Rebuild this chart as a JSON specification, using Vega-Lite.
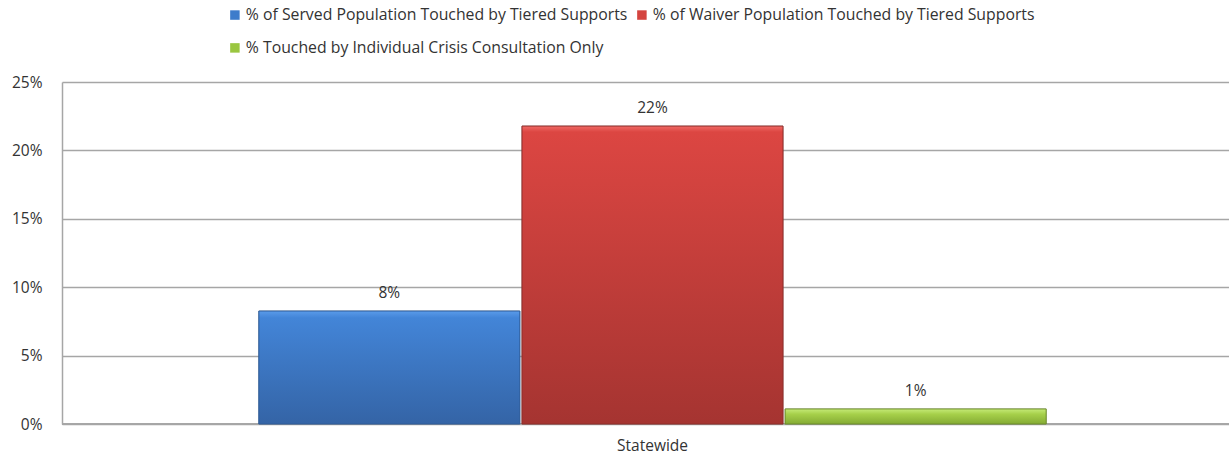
{
  "$schema": "https://vega.github.io/schema/vega-lite/v6.json",
  "autosize": {"type": "none"},
  "width": 1181,
  "height": 342,
  "padding": {"left": 62, "top": 82, "right": 0, "bottom": 33},
  "background": "white",
  "config": {
    "view": {"stroke": null},
    "font": "Open Sans",
    "text": {"font": "Open Sans"}
  },
  "data": {
    "values": [
      {"region": "Statewide", "series": "% of Served Population Touched by Tiered Supports", "value": 0.0826, "label": "8%"},
      {"region": "Statewide", "series": "% of Waiver Population Touched by Tiered Supports", "value": 0.2178, "label": "22%"},
      {"region": "Statewide", "series": "% Touched by Individual Crisis Consultation Only", "value": 0.011, "label": "1%"}
    ]
  },
  "encoding": {
    "x": {
      "field": "region", "type": "nominal",
      "scale": {"paddingOuter": 0.25, "paddingInner": 0},
      "axis": {"title": null, "labelAngle": 0, "ticks": false, "domain": false, "labelFontSize": 15.5, "labelColor": "#333333", "labelPadding": 14, "labelFont": "Open Sans"}
    },
    "xOffset": {
      "field": "series", "type": "nominal",
      "sort": ["% of Served Population Touched by Tiered Supports", "% of Waiver Population Touched by Tiered Supports", "% Touched by Individual Crisis Consultation Only"],
      "scale": {"paddingInner": 0.008, "paddingOuter": 0}
    },
    "y": {
      "field": "value", "type": "quantitative",
      "scale": {"domain": [0, 0.25], "nice": false},
      "axis": {"title": null, "format": ".0%", "values": [0, 0.05, 0.1, 0.15, 0.2, 0.25], "ticks": false, "labelPadding": 20, "labelFontSize": 15.5, "labelColor": "#333333", "gridColor": "#A6A6A6", "gridWidth": 1.5, "domainColor": "#A6A6A6", "domainWidth": 1.5, "labelFont": "Open Sans"}
    }
  },
  "layer": [
    {
      "mark": {"type": "rule", "color": "#A6A6A6", "strokeWidth": 1.5},
      "encoding": {"y": {"datum": 0}, "x": null, "xOffset": null}
    },
    {
      "mark": {"type": "bar", "stroke": "#5a5a5a", "strokeOpacity": 0.35, "strokeWidth": 1},
      "encoding": {
        "color": {
          "field": "series", "type": "nominal",
          "sort": ["% of Served Population Touched by Tiered Supports", "% of Waiver Population Touched by Tiered Supports", "% Touched by Individual Crisis Consultation Only"],
          "scale": {"range": ["#3D7CCB", "#D4443F", "#9AC640"]},
          "legend": {
            "title": null, "orient": "none", "legendX": 165, "legendY": -75,
            "direction": "horizontal", "columns": 2, "columnPadding": 6, "rowPadding": 16,
            "symbolType": "square", "symbolSize": 90, "symbolStrokeWidth": 0,
            "labelFontSize": 15.8, "labelColor": "#333333", "labelFont": "Open Sans", "labelLimit": 600, "labelOffset": 3
          }
        }
      }
    },
    {
      "transform": [{"filter": "datum.label == '8%'"}],
      "mark": {"type": "bar", "stroke": "#2f5d99", "strokeWidth": 1,
        "color": {"gradient": "linear", "x1": 0, "y1": 0, "x2": 0, "y2": 1,
          "stops": [{"offset": 0, "color": "#5A9BEA"}, {"offset": 0.06, "color": "#4385D8"}, {"offset": 1, "color": "#3464A6"}]}}
    },
    {
      "transform": [{"filter": "datum.label == '22%'"}],
      "mark": {"type": "bar", "stroke": "#8f2e2b", "strokeWidth": 1,
        "color": {"gradient": "linear", "x1": 0, "y1": 0, "x2": 0, "y2": 1,
          "stops": [{"offset": 0, "color": "#F06A66"}, {"offset": 0.02, "color": "#DC4642"}, {"offset": 1, "color": "#A53431"}]}}
    },
    {
      "transform": [{"filter": "datum.label == '1%'"}],
      "mark": {"type": "bar", "stroke": "#6f8f2c", "strokeWidth": 1,
        "color": {"gradient": "linear", "x1": 0, "y1": 0, "x2": 0, "y2": 1,
          "stops": [{"offset": 0, "color": "#C5EA78"}, {"offset": 0.35, "color": "#A6D04A"}, {"offset": 1, "color": "#84AB34"}]}}
    },
    {
      "mark": {"type": "text", "baseline": "bottom", "dy": -10, "fontSize": 15.5, "color": "#333333"},
      "encoding": {"text": {"field": "label"}}
    }
  ]
}
